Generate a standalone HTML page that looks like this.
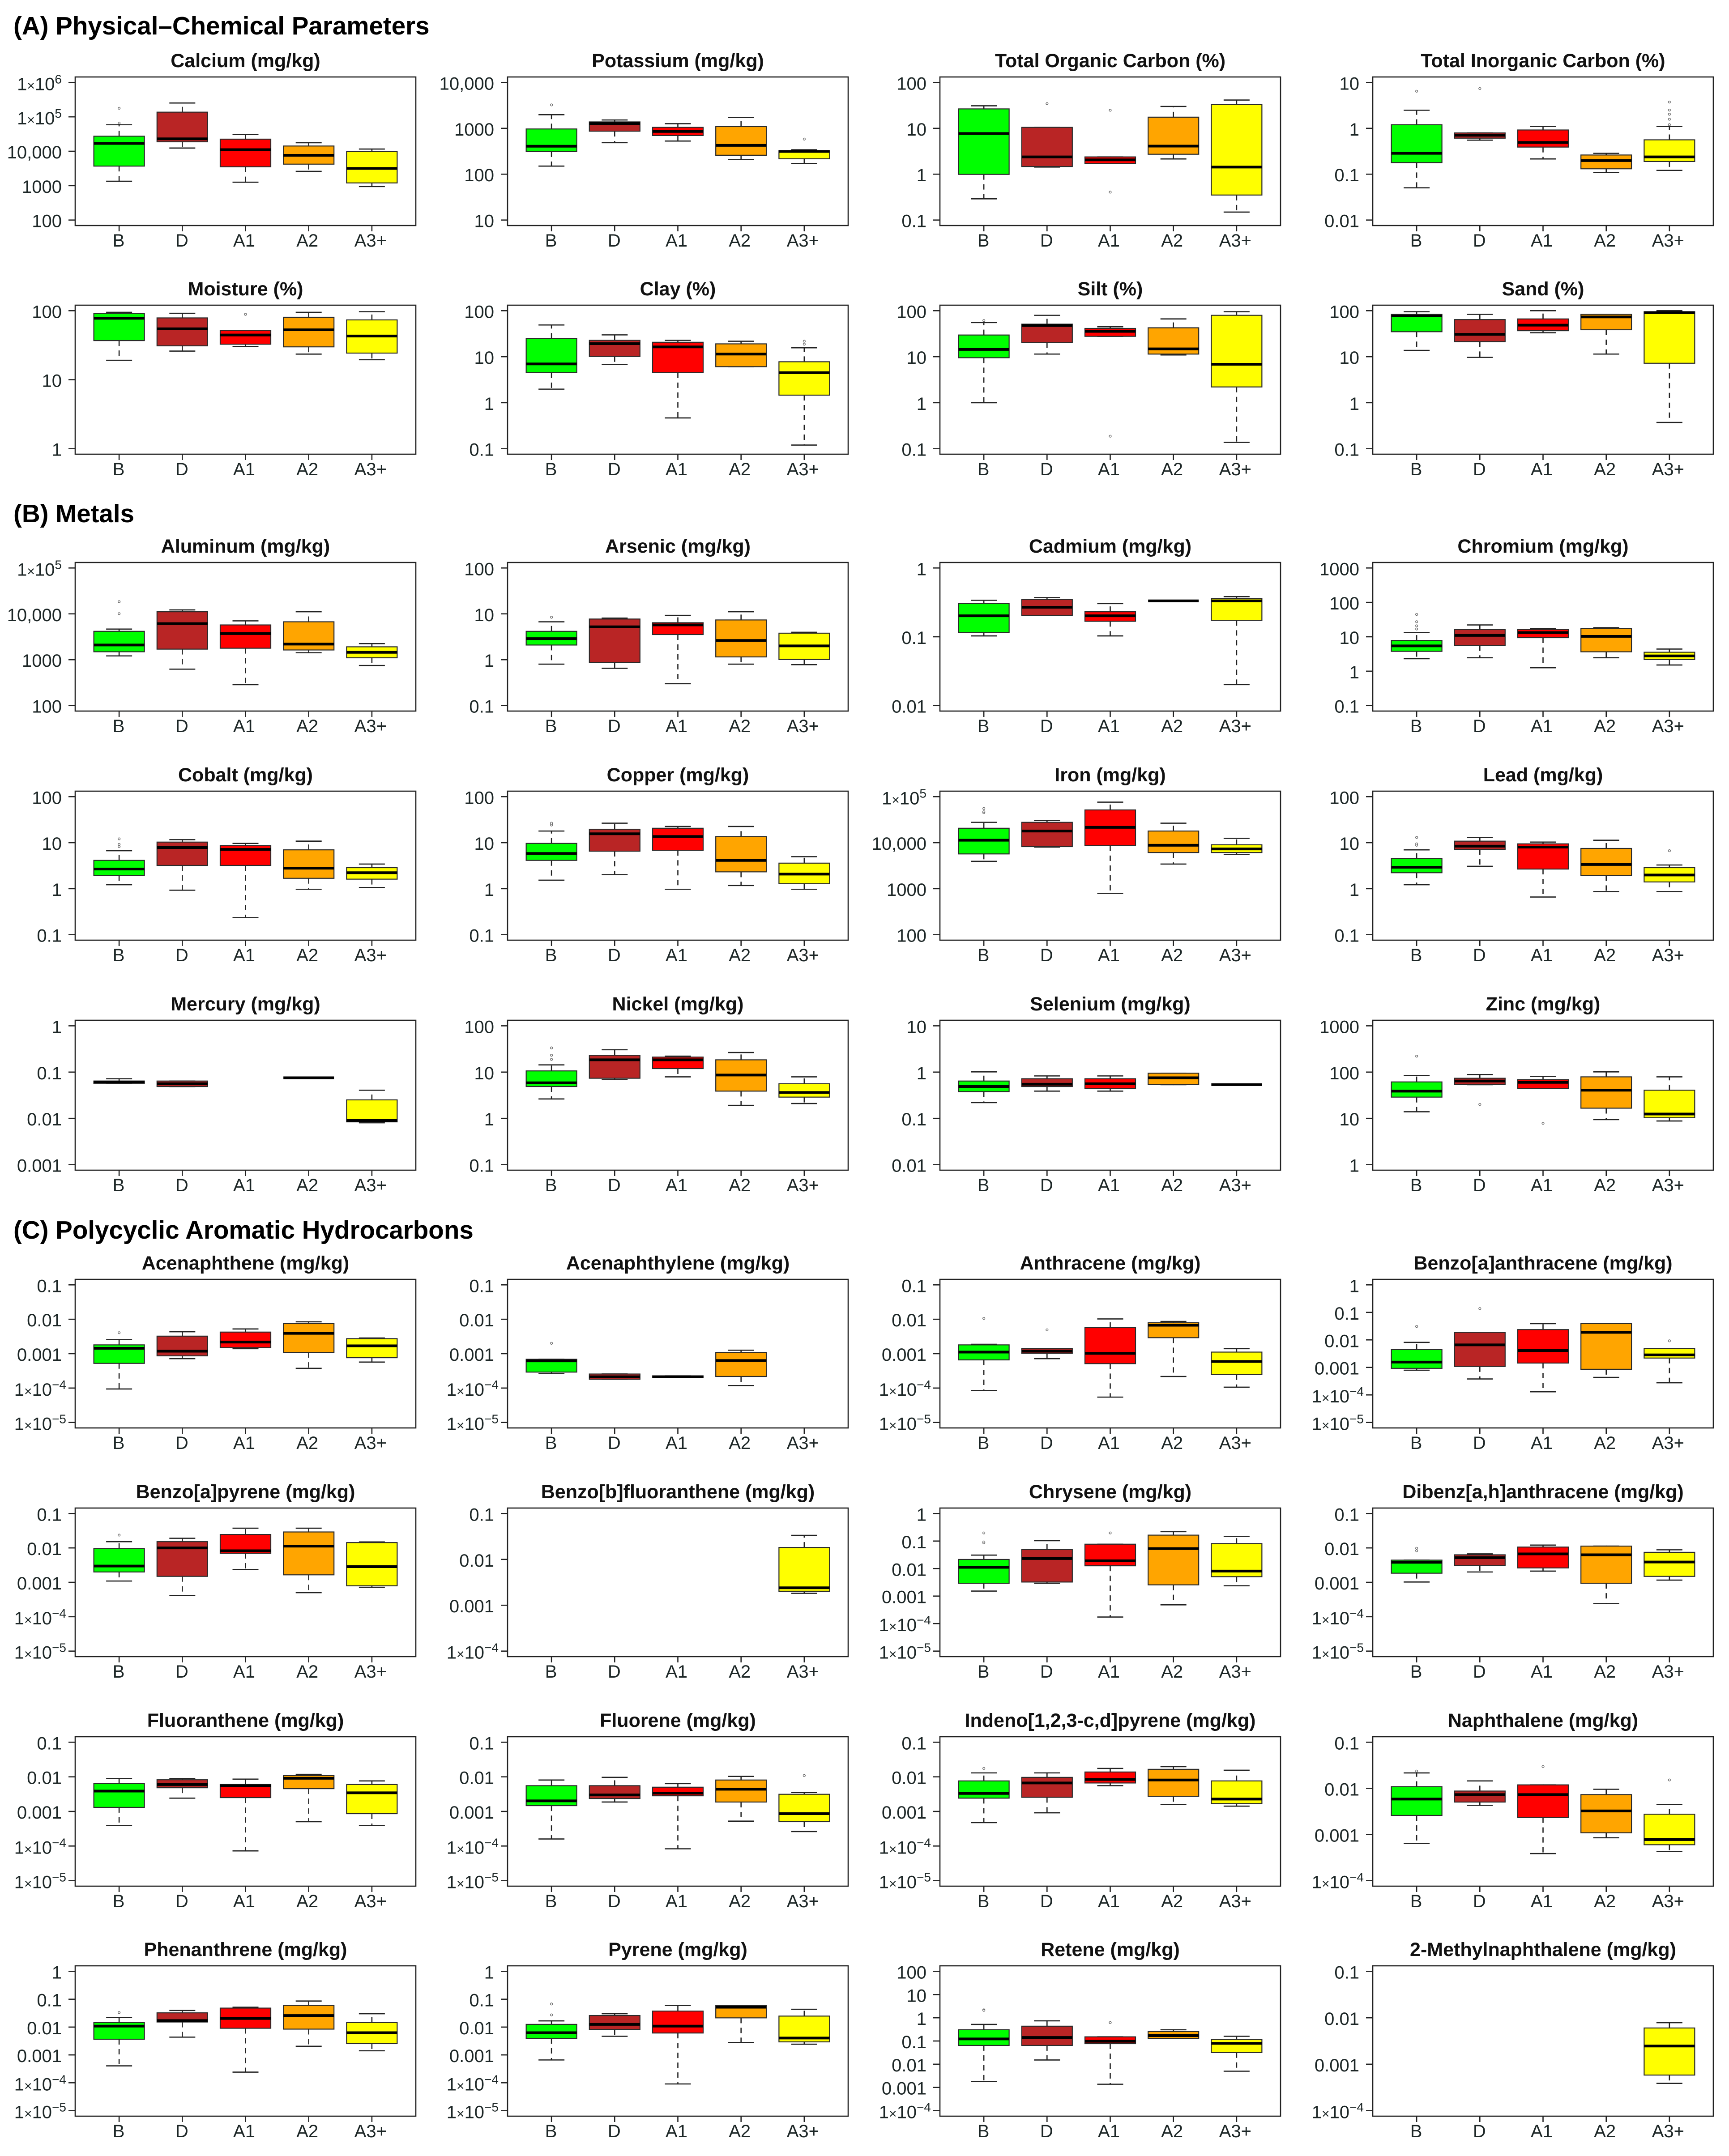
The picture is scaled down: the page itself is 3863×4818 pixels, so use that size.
<!DOCTYPE html>
<html lang="en">
<head>
<meta charset="utf-8">
<title>Boxplots by group: physical–chemical parameters, metals and polycyclic aromatic hydrocarbons</title>
<style>
  html, body { margin: 0; padding: 0; background: #fff; }
  svg { display: block; font-family: "Liberation Sans", Arial, sans-serif; }
  .section-title { font-size: 56.5px; font-weight: bold; fill: #000; }
  .panel-title { font-size: 43px; font-weight: bold; fill: #111; text-anchor: middle; }
  .tick-label { font-size: 40px; fill: #1c2626; }
</style>
</head>
<body>
<svg id="figure" xmlns="http://www.w3.org/2000/svg" width="3863" height="4818" viewBox="0 0 3863 4818">
  <rect x="0" y="0" width="3863" height="4818" fill="#ffffff"/>
  <text class="section-title" x="30" y="77">(A) Physical–Chemical Parameters</text>
  <text class="section-title" x="30" y="1167">(B) Metals</text>
  <text class="section-title" x="30" y="2768">(C) Polycyclic Aromatic Hydrocarbons</text>
</svg>
<script>
const N = null;
const groups = ['B', 'D', 'A1', 'A2', 'A3+'];
const groupColors = ['#00ff00', '#b92525', '#ff0000', '#ffa500', '#ffff00'];

const panelTitles = [
  'Calcium (mg/kg)', 'Potassium (mg/kg)', 'Total Organic Carbon (%)', 'Total Inorganic Carbon (%)',
  'Moisture (%)', 'Clay (%)', 'Silt (%)', 'Sand (%)',
  'Aluminum (mg/kg)', 'Arsenic (mg/kg)', 'Cadmium (mg/kg)', 'Chromium (mg/kg)',
  'Cobalt (mg/kg)', 'Copper (mg/kg)', 'Iron (mg/kg)', 'Lead (mg/kg)',
  'Mercury (mg/kg)', 'Nickel (mg/kg)', 'Selenium (mg/kg)', 'Zinc (mg/kg)',
  'Acenaphthene (mg/kg)', 'Acenaphthylene (mg/kg)', 'Anthracene (mg/kg)', 'Benzo[a]anthracene (mg/kg)',
  'Benzo[a]pyrene (mg/kg)', 'Benzo[b]fluoranthene (mg/kg)', 'Chrysene (mg/kg)', 'Dibenz[a,h]anthracene (mg/kg)',
  'Fluoranthene (mg/kg)', 'Fluorene (mg/kg)', 'Indeno[1,2,3-c,d]pyrene (mg/kg)', 'Naphthalene (mg/kg)',
  'Phenanthrene (mg/kg)', 'Pyrene (mg/kg)', 'Retene (mg/kg)', '2-Methylnaphthalene (mg/kg)'
];

const tickLabels = [
  ['1×10^6','1×10^5','10,000','1000','100'], ['10,000','1000','100','10'], ['100','10','1','0.1'], ['10','1','0.1','0.01'],
  ['100','10','1'], ['100','10','1','0.1'], ['100','10','1','0.1'], ['100','10','1','0.1'],
  ['1×10^5','10,000','1000','100'], ['100','10','1','0.1'], ['1','0.1','0.01'], ['1000','100','10','1','0.1'],
  ['100','10','1','0.1'], ['100','10','1','0.1'], ['1×10^5','10,000','1000','100'], ['100','10','1','0.1'],
  ['1','0.1','0.01','0.001'], ['100','10','1','0.1'], ['10','1','0.1','0.01'], ['1000','100','10','1'],
  ['0.1','0.01','0.001','1×10^-4','1×10^-5'], ['0.1','0.01','0.001','1×10^-4','1×10^-5'], ['0.1','0.01','0.001','1×10^-4','1×10^-5'], ['1','0.1','0.01','0.001','1×10^-4','1×10^-5'],
  ['0.1','0.01','0.001','1×10^-4','1×10^-5'], ['0.1','0.01','0.001','1×10^-4'], ['1','0.1','0.01','0.001','1×10^-4','1×10^-5'], ['0.1','0.01','0.001','1×10^-4','1×10^-5'],
  ['0.1','0.01','0.001','1×10^-4','1×10^-5'], ['0.1','0.01','0.001','1×10^-4','1×10^-5'], ['0.1','0.01','0.001','1×10^-4','1×10^-5'], ['0.1','0.01','0.001','1×10^-4'],
  ['1','0.1','0.01','0.001','1×10^-4','1×10^-5'], ['1','0.1','0.01','0.001','1×10^-4','1×10^-5'], ['100','10','1','0.1','0.01','0.001','1×10^-4'], ['0.1','0.01','0.001','1×10^-4']
];

const axisMax = [
  1e6, 1e4, 100, 10,
  100, 100, 100, 100,
  1e5, 100, 1, 1000,
  100, 100, 1e5, 100,
  1, 100, 10, 1000,
  0.1, 0.1, 0.1, 1,
  0.1, 0.1, 1, 0.1,
  0.1, 0.1, 0.1, 0.1,
  1, 1, 100, 0.1
];
const axisMin = [
  100, 10, 0.1, 0.01,
  1, 0.1, 0.1, 0.1,
  100, 0.1, 0.01, 0.1,
  0.1, 0.1, 100, 0.1,
  0.001, 0.1, 0.01, 1,
  1e-5, 1e-5, 1e-5, 1e-5,
  1e-5, 1e-4, 1e-5, 1e-5,
  1e-5, 1e-5, 1e-5, 1e-4,
  1e-5, 1e-5, 1e-4, 1e-4
];

const whiskerLow = [
  [1340,12400,1260,2600,944], [150,487,528,208,171], [.29,1.43,1.71,2.15,.149], [.0505,.552,.215,.109,.121],
  [19.1,26,30.3,23.5,19.5], [1.97,6.78,.466,6.07,.12], [1,11.4,27.7,10.9,.137], [13.7,9.68,33.2,11.4,.372],
  [1210,622,286,1420,748], [.8,.65,.3,.8,.78], [.103,.205,.103,.333,.0202], [2.31,2.46,1.26,2.46,1.51],
  [1.22,.927,.234,.97,1.06], [1.53,2.02,.97,1.17,.97], [3930,8020,789,3430,5560], [1.22,3.06,.658,.865,.865],
  [.0573,.0488,N,.0753,.00802], [2.63,6.87,7.89,1.91,2.09], [.219,.388,.388,.535,.535], [13.9,53.5,44.5,9.4,8.78],
  [9.4e-5,.000716,.0014,.000374,.000569], [.000262,.00018,.000204,.000118,N], [8.45e-5,.000716,5.45e-5,.000217,.000106], [.000791,.00038,.00013,.000433,.000277],
  [.00109,.000415,.00236,.000501,.000716], [N,N,N,N,.00182], [.00152,.00292,.000173,.000481,.00237], [.00102,.002,.00212,.000241,.00116],
  [.00039,.00242,7.24e-5,.000505,.00039], [.00016,.00187,8.32e-5,.000525,.000262], [.000475,.000914,.00555,.00159,.00142], [.00064,.00429,.000386,.00085,.000429],
  [.000404,.00435,.000241,.00204,.00141], [.000659,.00468,9.06e-5,.0028,.00242], [.00178,.0152,.00137,.13,.00499], [N,N,N,N,.000386]
];
const quartile1 = [
  [3700,18800,3540,4220,1200], [310,867,696,259,217], [.99,1.47,1.71,2.72,.351], [.179,.61,.39,.131,.189],
  [36.9,31,32.7,29.9,24.3], [4.49,10.1,4.49,6.07,1.46], [9.5,20.3,27.7,11.4,2.2], [34.9,21.3,36.7,38.5,7.2],
  [1490,1700,1780,1630,1100], [2.09,.877,3.54,1.15,1.01], [.115,.205,.168,.333,.173], [3.77,5.6,9.42,3.66,2.18],
  [1.93,3.2,3.2,1.68,1.61], [4.12,6.53,6.82,2.32,1.28], [5690,8200,8590,6100,6100], [2.22,7.14,2.67,1.93,1.4],
  [.0573,.0488,N,.0753,.0084], [4.88,7.36,11.9,3.88,2.88], [.379,.488,.445,.535,.535], [28.8,53.5,44.5,16.6,10.3],
  [.000522,.000863,.00149,.00109,.000762], [.000291,.00018,.000204,.000217,N], [.000658,.00102,.000512,.00291,.000246], [.000925,.00108,.00144,.000855,.00219],
  [.002,.00149,.007,.00165,.000794], [N,N,N,N,.00202], [.00292,.00324,.0126,.00256,.00507], [.00184,.0031,.00262,.00094,.00149],
  [.00131,.00483,.00251,.00455,.000861], [.00147,.00237,.00283,.00187,.000505], [.00242,.00256,.00664,.00272,.00169], [.00259,.00505,.00233,.00109,.0006],
  [.00366,.0152,.00907,.00844,.00254], [.00394,.00822,.00612,.0214,.00294], [.0644,.0644,.0767,.13,.0318], [N,N,N,N,.000583]
];
const medians = [
  [16900,23000,11100,7640,3170], [407,1270,855,425,314], [7.7,2.38,2.05,4.1,1.43], [.285,.706,.492,.198,.238],
  [77.7,54.7,44.4,52.9,43], [6.96,19.2,16.3,11.4,4.49], [14.4,47.7,35.5,14.8,6.85], [76.9,30.6,48.5,73.1,90.6],
  [2090,6120,3710,2190,1450], [2.88,5.22,5.73,2.63,2], [.202,.269,.202,.333,.333], [5.43,11,13.2,10.3,2.78],
  [2.67,7.83,7.14,2.79,2.22], [5.82,15.6,13.6,4.12,2.07], [11300,17900,21500,8790,7310], [2.92,8.4,8.02,3.35,1.98],
  [.0612,.056,N,.0753,.00898], [5.86,18.4,18.4,8.63,3.62], [.488,.547,.56,.753,.535], [38.8,64.1,60,40.6,12.4],
  [.00143,.00118,.00217,.0039,.00169], [.000618,.000212,.000212,.000631,N], [.00111,.00118,.00102,.00671,.000593], [.00156,.00658,.00411,.0188,.00285],
  [.00297,.01,.00828,.0113,.00285], [N,N,N,N,.0024], [.0111,.0231,.0192,.0533,.00811], [.00382,.00522,.00671,.00631,.0039],
  [.00388,.006,.00555,.0091,.00345], [.00202,.003,.00338,.00438,.000861], [.00331,.00664,.00841,.00809,.00228], [.00586,.00733,.00733,.00324,.000776],
  [.0108,.0171,.0204,.026,.00628], [.00628,.0125,.0108,.0516,.00404], [.123,.142,.097,.17,.0791], [N,N,N,N,.00246]
];
const quartile3 = [
  [27400,137000,22500,14200,9740], [968,1380,1050,1090,327], [26.5,10.5,2.38,17.5,32.8], [1.2,.794,.92,.262,.561],
  [91.6,78.6,51.8,80.3,73.6], [25,22.7,20.6,19,7.76], [29.6,51,41.1,42.5,79.4], [83.4,64.1,66.2,83.4,95.2],
  [4160,11100,5730,6710,1910], [4.16,7.71,6.41,7.36,3.79], [.304,.349,.231,.333,.36], [7.83,16.3,16.3,17.3,3.55],
  [4.12,10.3,8.6,6.98,2.86], [9.64,19.6,20.6,13.6,3.59], [20600,27700,51500,17900,9000], [4.52,10.8,9.42,7.49,2.86],
  [.0641,.0641,N,.0753,.0251], [10.6,23.1,21.1,18.4,5.6], [.641,.719,.719,.946,.535], [61.3,73.6,68.7,78.9,40.6],
  [.0018,.00323,.00424,.00746,.00273], [.000686,.000256,.000226,.00109,N], [.0018,.0014,.00569,.00794,.00111], [.00445,.0188,.0237,.039,.00481],
  [.00959,.0152,.0246,.0291,.0143], [N,N,N,N,.0182], [.0214,.0493,.0769,.164,.0811], [.00442,.00631,.0106,.0113,.00746],
  [.00637,.00824,.006,.0109,.006], [.00555,.00555,.00502,.00809,.00313], [.00762,.00966,.0138,.0165,.00762], [.0109,.00875,.0119,.00733,.00275],
  [.0145,.0324,.048,.0598,.0145], [.0125,.026,.0375,.0598,.0248], [.305,.435,.151,.256,.116], [N,N,N,N,.00603]
];
const whiskerHigh = [
  [59000,253000,30600,17700,11600], [1980,1520,1260,1720,341], [31,10.5,2.38,30,41.4], [2.48,.794,1.1,.285,1.1],
  [94.7,91.6,51.8,94.7,96.8], [48.9,29.8,22.7,21.7,15.6], [55.3,79.4,44.7,66.2,95.2], [95,83.4,100,83.4,100],
  [4650,12200,7030,11100,2240], [6.71,8.07,9.25,11.1,3.97], [.339,.371,.304,.333,.383], [13.2,22.1,17.3,18.4,4.39],
  [6.68,11.6,9.64,10.8,3.43], [17.9,26.5,22.5,22.5,4.96], [27700,30400,76000,26500,12400], [6.98,13,10.3,11.3,3.27],
  [.0719,.0641,N,.0753,.0406], [14.3,30.4,22.1,26.5,7.89], [1.01,.826,.826,.946,.535], [84.4,88.4,80.7,101,78.9],
  [.00256,.00433,.00522,.00845,.00285], [.000686,.000256,.000226,.00126,N], [.00187,.0014,.0102,.00863,.0014], [.00811,.0188,.039,.039,.00481],
  [.0152,.0191,.0374,.0374,.0149], [N,N,N,N,.0334], [.0308,.103,.0769,.219,.148], [.00442,.00671,.0121,.0113,.00881],
  [.00893,.00893,.00857,.0118,.00762], [.00809,.00966,.00637,.0103,.00352], [.013,.013,.0175,.0197,.0155], [.0216,.0145,.0119,.00957,.00449],
  [.0219,.0394,.0516,.0863,.0301], [.0167,.0301,.0598,.0598,.0435], [.519,.738,.151,.305,.16], [N,N,N,N,.00785]
];
const outliers = [
  [[178000,66000],[],[],[],[]], [[3240],[],[],[],[582]], [[],[34.5],[24.8,.406],[],[]], [[6.45],[7.36],[],[],[3.74,2.5,2.03,1.58,1.2]],
  [[],[],[88.6],[],[]], [[],[],[],[],[18.7,21.7]], [[61],[],[.187],[],[]], [[],[],[],[],[]],
  [[10100,18400],[],[],[],[]], [[8.43],[],[],[],[]], [[],[],[],[],[]], [[16.8,20.8,27.4,44.6],[],[],[],[]],
  [[8.2,9.2,12.1],[],[],[],[]], [[24.2,26.5],[],[],[],[]], [[44900,47000,55200],[],[],[],[]], [[8.79,9.4,13],[],[],[],[6.68]],
  [[],[],[],[],[]], [[18.8,23.1,33.3],[],[],[],[]], [[],[],[],[],[]], [[221],[20],[7.83],[],[]],
  [[.00406],[],[],[],[]], [[.002],[],[],[],[]], [[.0106],[.00491],[],[],[]], [[.0308],[.137],[],[],[.00925]],
  [[.0236],[],[],[],[]], [[],[],[],[],[]], [[.0855,.0925,.197],[],[.197],[],[]], [[.00828,.0098],[],[],[],[]],
  [[],[],[],[],[]], [[],[],[],[],[.0109]], [[.0175],[],[],[],[]], [[.0237],[],[.0296],[],[.0152]],
  [[.0332],[],[],[],[]], [[.0273,.0676],[],[],[],[]], [[2.19,2.1],[],[.62],[],[]], [[],[],[],[],[]]
];

/* Page layout (not data) */
const colLeft = [168, 1134, 2100, 3067];
const rowTop = [172, 682, 1257, 1768, 2280, 2859, 3370, 3881, 4393];
const rowBottom = [504, 1015, 1589, 2101, 2615, 3191, 3702, 4215, 4729];
const panelWidth = 761;
const INK = '#222222';
const SVGNS = 'http://www.w3.org/2000/svg';

const figure = document.getElementById('figure');

function make(tag, props, parent) {
  const node = document.createElementNS(SVGNS, tag);
  for (const key in props) node.setAttribute(key, props[key]);
  parent.appendChild(node);
  return node;
}
function slug(text) {
  return text.replace(/\(.*?\)/g, '').trim().toLowerCase().replace(/[^a-z0-9]+/g, '-').replace(/^-|-$/g, '');
}
function xScale(left) {
  const dMin = 0.305, dMax = 5.695;
  return i => left + ((i + 1) - dMin) / (dMax - dMin) * panelWidth;
}
function yScale(top, bottom, low, high) {
  const inset = (bottom - top) * 0.037;
  const a = Math.log10(low), b = Math.log10(high);
  return v => (bottom - inset) - (Math.log10(v) - a) / (b - a) * ((bottom - inset) - (top + inset));
}

panelTitles.forEach((title, p) => {
  const col = p % 4;
  const row = Math.floor(p / 4);
  const left = colLeft[col];
  const top = rowTop[row];
  const bottom = rowBottom[row];
  const x = xScale(left);
  const y = yScale(top, bottom, axisMin[p], axisMax[p]);
  const name = slug(title);

  const panel = make('g', {}, figure);
  
  

  const heading = make('text', { class: 'panel-title', x: left + panelWidth / 2, y: top - 22 }, panel);
  heading.textContent = title;
  
  

  /* y axis */
  const labels = tickLabels[p];
  labels.forEach((label, t) => {
    const value = axisMax[p] / Math.pow(10, t);
    const ty = y(value);
    const tick = make('line', { x1: left - 15, x2: left, y1: ty, y2: ty, stroke: INK, 'stroke-width': 2.6 }, panel);
    
    

    const parts = label.split('^');
    const isPower = parts.length === 2;
    const negative = isPower && parts[1].charAt(0) === '-';
    const endX = negative ? left - 20 : left - 30;
    const text = make('text', { class: 'tick-label', x: endX, y: ty + (isPower ? 17 : 16), 'text-anchor': 'end' }, panel);
    
    
    if (isPower) {
      const mantissa = parts[0].split('×');
      make('tspan', {}, text).textContent = mantissa[0];
      make('tspan', { 'font-size': 30 }, text).textContent = '×';
      make('tspan', {}, text).textContent = mantissa[1];
      make('tspan', { 'font-size': 28, dy: -15 }, text).textContent = parts[1].replace('-', '−');
    } else {
      text.textContent = label;
    }
  });

  /* x axis */
  groups.forEach((group, i) => {
    const tx = x(i);
    const tick = make('line', { x1: tx, x2: tx, y1: bottom, y2: bottom + 13, stroke: INK, 'stroke-width': 2.6 }, panel);
    
    
    const text = make('text', { class: 'tick-label', x: tx - (group.length > 1 ? 3 : 1), y: bottom + 47, 'text-anchor': 'middle' }, panel);
    text.textContent = group;
    
    
  });

  /* boxes */
  groups.forEach((group, i) => {
    if (medians[p][i] === null) return;
    const cx = x(i);
    const boxHalf = 56.5;
    const capHalf = 29;
    const yQ1 = y(quartile1[p][i]);
    const yQ3 = y(quartile3[p][i]);
    const yMed = y(medians[p][i]);
    const yLo = y(whiskerLow[p][i]);
    const yHi = y(whiskerHigh[p][i]);

    const lowerWhisker = make('line', { x1: cx, x2: cx, y1: yQ1, y2: yLo, stroke: INK, 'stroke-width': 2.6, 'stroke-dasharray': '12 10' }, panel);
    
    

    const upperWhisker = make('line', { x1: cx, x2: cx, y1: yQ3, y2: yHi, stroke: INK, 'stroke-width': 2.6, 'stroke-dasharray': '12 10' }, panel);
    
    

    const lowerCap = make('line', { x1: cx - capHalf, x2: cx + capHalf, y1: yLo, y2: yLo, stroke: INK, 'stroke-width': 2.6 }, panel);
    
    

    const upperCap = make('line', { x1: cx - capHalf, x2: cx + capHalf, y1: yHi, y2: yHi, stroke: INK, 'stroke-width': 2.6 }, panel);
    
    

    const box = make('rect', { x: cx - boxHalf, y: yQ3, width: boxHalf * 2, height: Math.max(yQ1 - yQ3, 0), fill: groupColors[i], stroke: '#2a2a2a', 'stroke-width': 2.2 }, panel);
    
    

    const median = make('line', { x1: cx - boxHalf, x2: cx + boxHalf, y1: yMed, y2: yMed, stroke: '#000000', 'stroke-width': 6 }, panel);
    
    

    outliers[p][i].forEach(value => {
      const dot = make('circle', { cx: cx, cy: y(value), r: 2.4, fill: '#ffffff', stroke: '#666666', 'stroke-width': 1.4 }, panel);
      
      
    });
  });

  const frame = make('rect', { x: left, y: top, width: panelWidth, height: bottom - top, fill: 'none', stroke: INK, 'stroke-width': 2.6 }, panel);
  
  
});
</script>
</body>
</html>
